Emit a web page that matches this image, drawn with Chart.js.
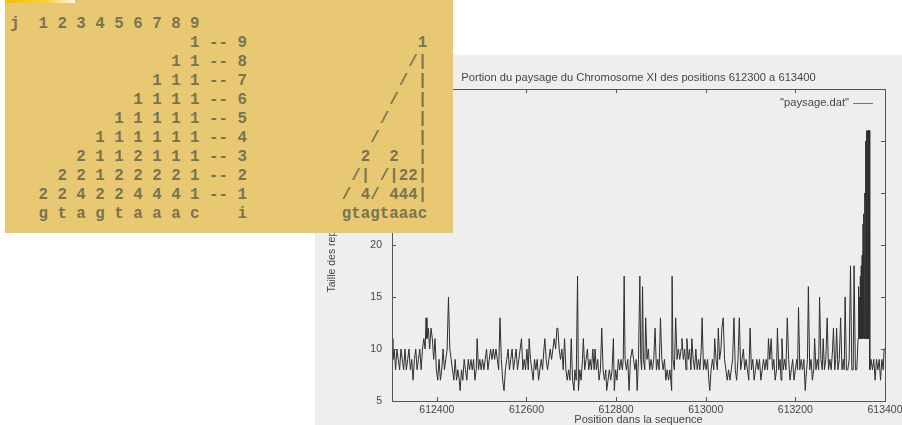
<!DOCTYPE html>
<html>
<head>
<meta charset="utf-8">
<script src="https://cdn.jsdelivr.net/npm/chart.js@4"></script>
<style>
  html,body{margin:0;padding:0;background:#fff;width:902px;height:425px;overflow:hidden;}
  #plotbox{position:absolute;left:315px;top:55px;width:587px;height:370px;background:#eeeeee;}
  #note{position:absolute;left:5px;top:0;width:448px;height:233px;background:#e8c872;z-index:2;}
  #note .strip{position:absolute;left:0;top:0;width:70px;height:3px;background:linear-gradient(to right,#f6c000,#f8d040 60%,rgba(255,255,255,0.9));}
  #note pre{position:absolute;left:5px;top:15px;margin:0;font-family:"Liberation Mono",monospace;font-size:15.8px;line-height:19px;font-weight:bold;color:#787450;}
</style>
</head>
<body>
<div id="plotbox"><canvas id="chart" width="587" height="370"></canvas></div>
<div id="note"><div class="strip"></div><pre id="grid"></pre></div>
<script>
/* ================= DONNEES ================= */
const POSITIONS = [
  612300,612302,612305,612308,612311,612314,612317,612320,612323,612326,
  612329,612332,612335,612338,612341,612344,612347,612350,612353,612356,
  612359,612362,612365,612368,612371,612374,612376,612378,612381,612384,
  612387,612390,612393,612396,612399,612402,612405,612408,612411,612414,
  612417,612420,612423,612426,612429,612432,612435,612438,612441,612444,
  612447,612450,612452,612455,612458,612461,612464,612467,612470,612473,
  612476,612479,612482,612485,612488,612490,612493,612496,612499,612502,
  612505,612508,612511,612514,612517,612520,612523,612526,612529,612532,
  612535,612538,612541,612544,612547,612550,612553,612556,612559,612562,
  612565,612568,612571,612574,612577,612580,612583,612586,612589,612592,
  612595,612598,612601,612604,612606,612609,612612,612615,612618,612621,
  612624,612627,612630,612633,612636,612639,612641,612644,612647,612650,
  612653,612656,612659,612662,612665,612668,612670,612673,612676,612679,
  612682,612685,612688,612691,612694,612697,612700,612703,612706,612708,
  612711,612714,612716,612719,612722,612725,612727,612730,612733,612736,
  612739,612742,612745,612748,612751,612753,612756,612759,612762,612765,
  612768,612771,612774,612777,612779,612782,612785,612788,612791,612794,
  612796,612799,612802,612805,612808,612811,612814,612816,612818,612820,
  612823,612826,612829,612832,612836,612839,612842,612845,612847,612850,
  612853,612855,612857,612859,612861,612864,612866,612869,612872,612875,
  612878,612881,612884,612887,612890,612893,612896,612899,612902,612905,
  612908,612911,612914,612917,612920,612922,612924,612925,612927,612930,
  612933,612936,612939,612942,612945,612947,612950,612953,612956,612958,
  612961,612964,612967,612969,612972,612975,612978,612981,612984,612987,
  612990,612992,612995,612998,613001,613004,613007,613009,613012,613015,
  613018,613020,613023,613026,613028,613031,613034,613036,613039,613042,
  613045,613048,613051,613054,613057,613060,613063,613066,613069,613072,
  613075,613078,613081,613084,613087,613090,613093,613096,613099,613102,
  613105,613108,613111,613114,613117,613120,613123,613126,613129,613132,
  613135,613138,613140,613143,613146,613149,613152,613155,613158,613160,
  613163,613166,613168,613170,613173,613176,613179,613182,613185,613188,
  613191,613194,613197,613200,613203,613205,613207,613210,613213,613216,
  613219,613222,613225,613227,613229,613232,613235,613238,613241,613243,
  613246,613249,613252,613254,613257,613260,613262,613265,613268,613271,
  613274,613277,613280,613283,613285,613288,613290,613292,613295,613298,
  613301,613304,613307,613309,613311,613314,613317,613320,613323,613326,
  613329,613331,613334,613337,613340,613341,613342,613343,613344,613345,
  613346,613347,613348,613349,613350,613351,613352,613353,613354,613355,
  613356,613357,613358,613359,613360,613361,613362,613363,613364,613365,
  613366,613369,613372,613375,613378,613381,613384,613387,613390,613393,
  613396,613398,613400
];
const TAILLES = [
  11,9,10,8,10,9,8,10,9,8,
  10,8,9,10,8,9,7,9,10,8,
  9,10,8,10,11,10,13,11,12,10,
  12,11,9,11,8,7,9,7,8,10,
  8,9,10,15,10,9,8,7,9,7,
  8,7,6,8,7,9,8,7,9,8,
  9,8,9,7,8,11,8,9,8,9,
  8,9,10,8,9,10,9,10,9,10,
  9,8,13,9,7,6,8,9,10,8,
  9,10,8,9,10,8,9,10,11,8,
  9,8,10,8,11,9,8,7,9,8,
  9,7,8,9,8,10,11,9,8,9,
  10,9,10,11,10,12,12,10,9,10,
  8,11,8,7,8,7,11,7,6,8,
  7,17,6,8,7,9,11,8,9,10,
  8,9,8,10,8,10,8,9,7,8,
  12,8,7,8,6,7,8,7,8,11,
  6,8,7,9,8,9,8,9,17,9,
  8,9,6,9,10,9,8,9,6,9,
  17,9,8,16,9,8,13,9,10,8,
  9,8,9,12,8,9,8,13,9,8,
  9,7,8,7,8,7,6,17,9,8,
  13,9,10,9,10,11,9,10,8,11,
  9,10,8,11,9,8,10,8,9,8,
  10,13,8,9,8,9,7,6,8,9,
  8,11,9,8,12,9,10,12,13,9,
  8,7,8,7,8,9,13,8,7,9,
  13,8,9,10,8,9,8,7,12,8,
  9,7,8,9,8,9,7,8,9,8,
  9,8,11,9,11,8,9,7,8,12,
  8,9,7,11,8,9,8,13,9,7,
  8,9,7,8,9,8,14,8,9,8,
  9,6,8,9,16,8,9,7,8,11,
  8,9,8,15,9,8,11,8,9,13,
  8,9,8,10,12,8,9,12,8,9,
  13,8,9,8,15,8,8,9,18,8,
  8,18,8,8,11,16,11,15,11,17,
  11,18,11,19,11,22,11,23,11,25,
  11,30,11,31,11,31,11,31,11,31,
  8,9,8,9,7,9,8,9,7,9,
  8,10,10
];
const X_TICKS = [612400,612600,612800,613000,613200,613400];
const Y_TICKS = [5,10,15,20,25,30,35];
const TITRE = 'Portion du paysage du Chromosome XI des positions 612300 a 613400';

/* texte de la figure ascii (colonnes gauche / droite) */
const GRID_LEFT = [
  "j  1 2 3 4 5 6 7 8 9",
  "                   1 -- 9",
  "                 1 1 -- 8",
  "               1 1 1 -- 7",
  "             1 1 1 1 -- 6",
  "           1 1 1 1 1 -- 5",
  "         1 1 1 1 1 1 -- 4",
  "       2 1 1 2 1 1 1 -- 3",
  "     2 2 1 2 2 2 2 1 -- 2",
  "   2 2 4 2 2 4 4 4 1 -- 1",
  "   g t a g t a a a c    i"
];
const GRID_RIGHT = [
  "",
  "        1",
  "       /|",
  "      / |",
  "     /  |",
  "    /   |",
  "   /    |",
  "  2  2  |",
  " /| /|22|",
  "/ 4/ 444|",
  "gtagtaaac"
];

document.getElementById("grid").textContent =
  GRID_LEFT.map((l,i)=>l.padEnd(35," ")+GRID_RIGHT[i]).join("\n");

/* ================= CHART ================= */
const FAMILY = "'Liberation Sans', Arial, sans-serif";
const FONT = {family:FAMILY, size:10.5};
const INK = '#454545';

// cadre gnuplot : ticks vers l'interieur sur les 4 cotes, titre et legende
const gnuplotFrame = {
  id:'gnuplotFrame',
  afterDraw(chart){
    const {ctx, chartArea:a, scales:{x,y}} = chart;
    ctx.save();
    ctx.strokeStyle = '#555';
    ctx.lineWidth = 1;
    ctx.beginPath();
    X_TICKS.forEach(v=>{
      const px = Math.round(x.getPixelForValue(v))+0.5;
      ctx.moveTo(px,a.bottom); ctx.lineTo(px,a.bottom-4);
      ctx.moveTo(px,a.top); ctx.lineTo(px,a.top+4);
    });
    Y_TICKS.forEach(v=>{
      const py = Math.round(y.getPixelForValue(v))+0.5;
      ctx.moveTo(a.left,py); ctx.lineTo(a.left+4,py);
      ctx.moveTo(a.right,py); ctx.lineTo(a.right-4,py);
    });
    ctx.stroke();
    ctx.strokeRect(Math.round(a.left)+0.5, Math.round(a.top)+0.5,
                   Math.round(a.right-a.left), Math.round(a.bottom-a.top));

    ctx.font = `11.2px ${FAMILY}`;
    ctx.fillStyle = INK;
    ctx.textBaseline = 'middle';
    // titre, centre sur la zone du graphe
    ctx.textAlign = 'center';
    ctx.fillText(TITRE, (a.left+a.right)/2, a.top-11);
    // legende
    ctx.textAlign = 'right';
    const ly = a.top+14;
    ctx.fillText('"paysage.dat"', a.right-36, ly);
    ctx.strokeStyle = '#777';
    ctx.beginPath();
    ctx.moveTo(a.right-32, ly+0.5); ctx.lineTo(a.right-12, ly+0.5);
    ctx.stroke();
    ctx.restore();
  }
};

new Chart(document.getElementById("chart"),{
  type:'line',
  data:{
    datasets:[{
      label:'"paysage.dat"',
      data:POSITIONS.map((p,i)=>({x:p, y:TAILLES[i]})),
      borderColor:'#2e2e2e',
      borderWidth:1,
      pointRadius:0,
      tension:0,
      fill:false
    }]
  },
  options:{
    responsive:false,
    animation:false,
    layout:{padding:{left:0,right:17,top:34,bottom:0}},
    plugins:{
      legend:{display:false},
      tooltip:{enabled:false},
      title:{display:false}
    },
    scales:{
      x:{
        type:'linear', min:612300, max:613400,
        border:{display:false},
        grid:{display:false, drawTicks:false},
        afterBuildTicks:(s)=>{ s.ticks = X_TICKS.map(v=>({value:v})); },
        afterFit:(s)=>{ s.height = 24; s.paddingLeft = 0; s.paddingRight = 0; },
        ticks:{color:INK, font:FONT, padding:3, maxRotation:0, autoSkip:false,
               callback:(v)=>String(v)},
        title:{display:true, text:'Position dans la sequence', color:INK,
               font:{family:FAMILY, size:11, lineHeight:1}, padding:{top:0,bottom:0}}
      },
      y:{
        min:5, max:35,
        border:{display:false},
        grid:{display:false, drawTicks:false},
        afterBuildTicks:(s)=>{ s.ticks = Y_TICKS.map(v=>({value:v})); },
        afterFit:(s)=>{ s.width = 77; s.paddingTop = 0; s.paddingBottom = 0; },
        ticks:{color:INK, font:FONT, padding:10, callback:(v)=>String(v)},
        title:{display:true, text:'Taille des repetitions', color:INK,
               font:FONT, padding:{top:11,bottom:0}}
      }
    }
  },
  plugins:[gnuplotFrame]
});
</script>
</body>
</html>
